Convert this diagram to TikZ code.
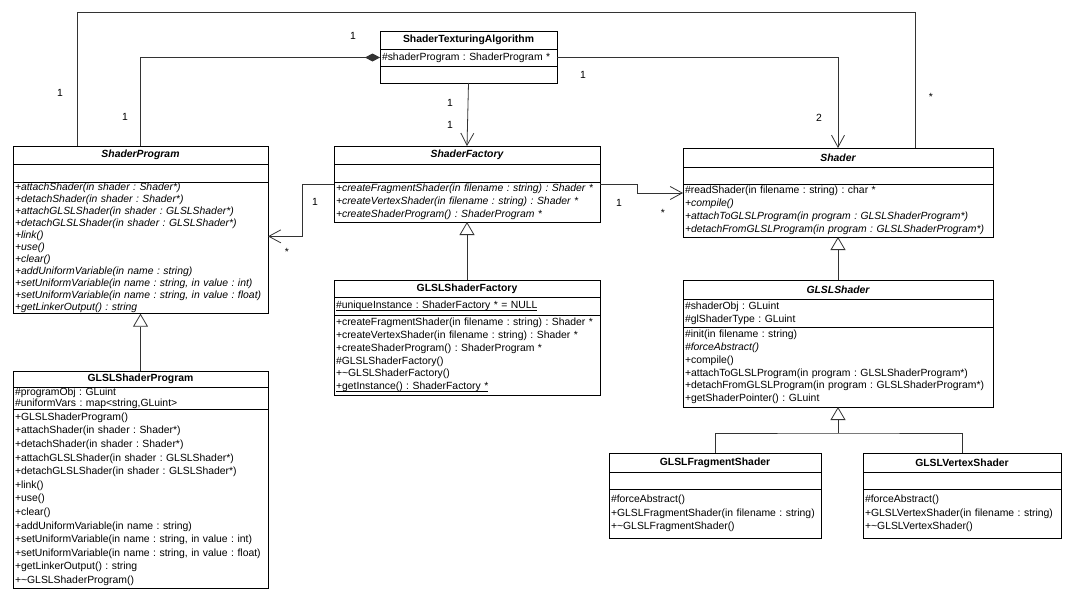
\documentclass[tikz,border=0pt]{standalone}
\usepackage{fontspec}
\setmainfont{Liberation Sans}
\usetikzlibrary{arrows.meta,positioning}

\newcommand\umlfont{\fontsize{10.4}{12.8}\selectfont\frenchspacing}
\newcommand\umlskip[1]{\fontsize{10.4}{#1}\selectfont\frenchspacing}
\newcommand\staticline[1]{\leavevmode\setbox0\hbox{#1}\rlap{\rule[-1.6pt]{\wd0}{0.5pt}}\box0}

\tikzset{
  compart/.style={draw, line width=0.7pt, outer sep=0pt, inner xsep=2pt, inner ysep=1pt, align=left, font=\umlfont},
  clsname/.style={compart, align=center, font=\umlfont\bfseries},
  absname/.style={compart, align=center, font=\umlfont\bfseries\itshape},
  link/.style={draw=black!80, line width=0.8pt},
  nav/.style={link, -{Straight Barb[length=12pt, width=13pt]}},
  gen/.style={link, -{Triangle[open, length=13pt, width=15pt, fill=white]}},
  comp/.style={link, {Diamond[length=15pt, width=8pt]}-},
  mult/.style={font=\umlfont, inner sep=0pt},
}

\begin{document}
\begin{tikzpicture}[x=1pt, y=-1pt]
  \useasboundingbox (0,0) rectangle (1075,600);

  % ShaderTexturingAlgorithm
  \node[clsname, text width=173pt, minimum height=18pt, anchor=north west] (sta) at (380,31) {ShaderTexturingAlgorithm};
  \node[compart, text width=173pt, minimum height=17pt, below=0pt of sta] (sta-a) {\#shaderProgram : ShaderProgram *};
  \node[compart, text width=173pt, minimum height=17pt, below=0pt of sta-a] (sta-m) {};

  % ShaderProgram
  \node[absname, text width=251pt, minimum height=18pt, anchor=north west] (prog) at (13,146) {ShaderProgram};
  \node[compart, text width=251pt, minimum height=18pt, below=0pt of prog] (prog-a) {};
  \node[compart, text width=251pt, minimum height=131pt, below=0pt of prog-a, font=\umlskip{12}\itshape] (prog-m) {+attachShader(in shader : Shader*)\\
    +detachShader(in shader : Shader*)\\
    +attachGLSLShader(in shader : GLSLShader*)\\
    +detachGLSLShader(in shader : GLSLShader*)\\
    +link()\\
    +use()\\
    +clear()\\
    +addUniformVariable(in name : string)\\
    +setUniformVariable(in name : string, in value : int)\\
    +setUniformVariable(in name : string, in value : float)\\
    +getLinkerOutput() : string};

  % GLSLShaderProgram
  \node[clsname, text width=251pt, minimum height=16pt, anchor=north west] (glprog) at (13,371) {GLSLShaderProgram};
  \node[compart, text width=251pt, minimum height=21pt, below=0pt of glprog, font=\umlskip{11}] (glprog-a) {\#programObj : GLuint\\
    \#uniformVars : map<string,GLuint>};
  \node[compart, text width=251pt, minimum height=179pt, below=0pt of glprog-a, font=\umlskip{13.6}] (glprog-m) {+GLSLShaderProgram()\\
    +attachShader(in shader : Shader*)\\
    +detachShader(in shader : Shader*)\\
    +attachGLSLShader(in shader : GLSLShader*)\\
    +detachGLSLShader(in shader : GLSLShader*)\\
    +link()\\
    +use()\\
    +clear()\\
    +addUniformVariable(in name : string)\\
    +setUniformVariable(in name : string, in value : int)\\
    +setUniformVariable(in name : string, in value : float)\\
    +getLinkerOutput() : string\\
    +\textasciitilde{}GLSLShaderProgram()};

  % ShaderFactory
  \node[absname, text width=262pt, minimum height=18pt, anchor=north west] (fact) at (334,146) {ShaderFactory};
  \node[compart, text width=262pt, minimum height=18pt, below=0pt of fact] (fact-a) {};
  \node[compart, text width=262pt, minimum height=40pt, below=0pt of fact-a, font=\umlfont\itshape] (fact-m) {+createFragmentShader(in filename : string) : Shader *\\
    +createVertexShader(in filename : string) : Shader *\\
    +createShaderProgram() : ShaderProgram *};

  % GLSLShaderFactory
  \node[clsname, text width=262pt, minimum height=17pt, anchor=north west] (glfact) at (334,280) {GLSLShaderFactory};
  \node[compart, text width=262pt, minimum height=18pt, below=0pt of glfact] (glfact-a) {\staticline{\#uniqueInstance : ShaderFactory * = NULL}};
  \node[compart, text width=262pt, minimum height=80pt, below=0pt of glfact-a] (glfact-m) {+createFragmentShader(in filename : string) : Shader *\\
    +createVertexShader(in filename : string) : Shader *\\
    +createShaderProgram() : ShaderProgram *\\
    \#GLSLShaderFactory()\\
    +\textasciitilde{}GLSLShaderFactory()\\
    \staticline{+getInstance() : ShaderFactory *}};

  % Shader
  \node[absname, text width=306pt, minimum height=19pt, anchor=north west] (shd) at (683,148) {Shader};
  \node[compart, text width=306pt, minimum height=17pt, below=0pt of shd] (shd-a) {};
  \node[compart, text width=306pt, minimum height=53pt, below=0pt of shd-a] (shd-m) {\#readShader(in filename : string) : char *\\
    \textit{+compile()}\\
    \textit{+attachToGLSLProgram(in program : GLSLShaderProgram*)}\\
    \textit{+detachFromGLSLProgram(in program : GLSLShaderProgram*)}};

  % GLSLShader
  \node[absname, text width=306pt, minimum height=19pt, anchor=north west] (glshd) at (683,280) {GLSLShader};
  \node[compart, text width=306pt, minimum height=28pt, below=0pt of glshd, font=\umlskip{13.3}] (glshd-a) {\#shaderObj : GLuint\\
    \#glShaderType : GLuint};
  \node[compart, text width=306pt, minimum height=80pt, below=0pt of glshd-a] (glshd-m) {\#init(in filename : string)\\
    \textit{\#forceAbstract()}\\
    +compile()\\
    +attachToGLSLProgram(in program : GLSLShaderProgram*)\\
    +detachFromGLSLProgram(in program : GLSLShaderProgram*)\\
    +getShaderPointer() : GLuint};

  % GLSLFragmentShader
  \node[clsname, text width=208pt, minimum height=19pt, anchor=north west] (frag) at (609,453) {GLSLFragmentShader};
  \node[compart, text width=208pt, minimum height=17pt, below=0pt of frag] (frag-a) {};
  \node[compart, text width=208pt, minimum height=49pt, below=0pt of frag-a, font=\umlskip{13.5}] (frag-m) {\#forceAbstract()\\
    +GLSLFragmentShader(in filename : string)\\
    +\textasciitilde{}GLSLFragmentShader()};

  % GLSLVertexShader
  \node[clsname, text width=194pt, minimum height=19pt, anchor=north west] (vert) at (863,453) {GLSLVertexShader};
  \node[compart, text width=194pt, minimum height=17pt, below=0pt of vert] (vert-a) {};
  \node[compart, text width=194pt, minimum height=49pt, below=0pt of vert-a, font=\umlskip{13.5}] (vert-m) {\#forceAbstract()\\
    +GLSLVertexShader(in filename : string)\\
    +\textasciitilde{}GLSLVertexShader()};

  % associations
  \draw[comp] (sta-a.west) -| (prog.north);
  \draw[nav] (sta-a.east) -| (shd.north);
  \draw[nav] (sta-m.south) -- (fact.north);
  \draw[link] ([xshift=64pt]prog.north west) -- ++(0,-134) -| ([xshift=232pt]shd.north west);
  \draw[nav] ([yshift=-2pt]fact-m.north west) -- ++(-32,0) |- ([yshift=11.5pt]prog-m.east);
  \draw[nav] ([yshift=-2pt]fact-m.north east) -- ++(37,0) |- ([yshift=-9pt]shd-m.north west);

  % generalizations
  \draw[gen] (glprog.north) -- (prog-m.south);
  \draw[gen] (glfact.north) -- (fact-m.south);
  \draw[gen] (glshd.north) -- (shd-m.south);
  \coordinate (fork) at ([yshift=-26pt]glshd-m.south);
  \draw[gen] (fork) -- (glshd-m.south);
  \draw[link] (frag.north) |- (fork) -| (vert.north);

  % multiplicities
  \node[mult] (m-prog-top) at (60,93) {1};
  \node[mult] (m-shd-top) at (931,97) {*};
  \node[mult] (m-sta-comp) at (353,36) {1};
  \node[mult] (m-prog-comp) at (125,117) {1};
  \node[mult] (m-sta-fact) at (450,103) {1};
  \node[mult] (m-fact-sta) at (450,125) {1};
  \node[mult] (m-sta-shd) at (583,75) {1};
  \node[mult] (m-shd-sta) at (819,118) {2};
  \node[mult] (m-fact-prog) at (315,202) {1};
  \node[mult] (m-prog-fact) at (287,252) {*};
  \node[mult] (m-fact-shd) at (619,203) {1};
  \node[mult] (m-shd-fact) at (663,213) {*};
\end{tikzpicture}
\end{document}
